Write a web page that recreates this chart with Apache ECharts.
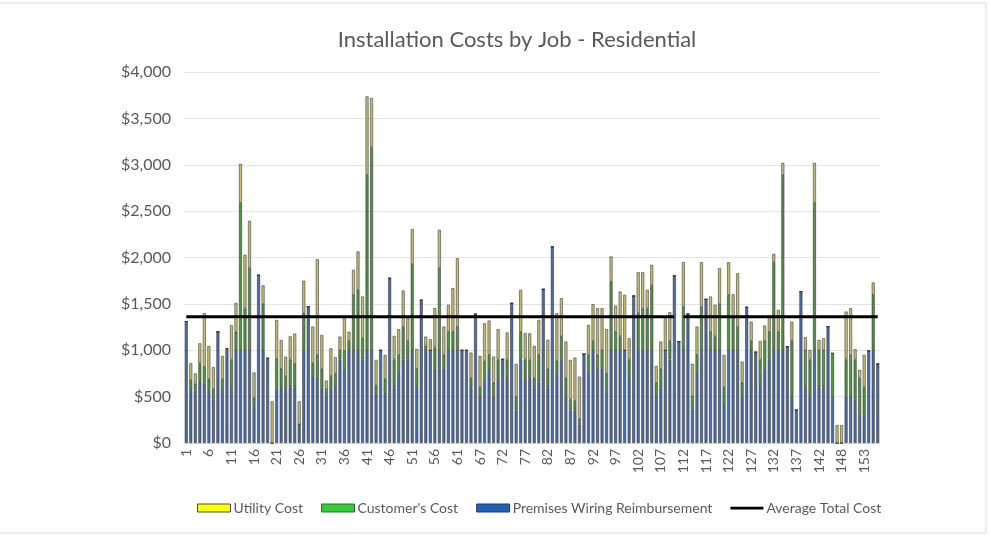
<!DOCTYPE html>
<html>
<head>
<meta charset="utf-8">
<title>Installation Costs by Job - Residential</title>
<script src="https://cdn.jsdelivr.net/npm/echarts@6/dist/echarts.min.js"></script>
<style>
  html, body { margin: 0; padding: 0; background: #ffffff; }
  #chart { width: 990px; height: 540px; }
</style>
</head>
<body>
<div id="chart"></div>
<script>
// Job numbers shown on the category axis (jobs 64 and 145 are absent)
const jobs = [
  1,2,3,4,5,6,7,8,9,10,11,12,13,14,15,16,17,18,19,20,
  21,22,23,24,25,26,27,28,29,30,31,32,33,34,35,36,37,38,39,40,
  41,42,43,44,45,46,47,48,49,50,51,52,53,54,55,56,57,58,59,60,
  61,62,63,65,66,67,68,69,70,71,72,73,74,75,76,77,78,79,80,81,
  82,83,84,85,86,87,88,89,90,91,92,93,94,95,96,97,98,99,100,101,
  102,103,104,105,106,107,108,109,110,111,112,113,114,115,116,117,118,119,120,121,
  122,123,124,125,126,127,128,129,130,131,132,133,134,135,136,137,138,139,140,141,
  142,143,144,146,147,148,149,150,151,152,153,154,155,156
];

// Premises wiring reimbursement per job ($)
const premisesWiring = [
  1310,570,560,660,640,570,470,1200,570,1000,600,1000,1000,1000,1000,390,1810,1000,914,0,
  570,600,570,600,600,200,1000,1470,720,700,600,500,570,600,900,790,1000,1000,1000,900,
  1000,1000,520,1000,540,1777,600,750,900,900,1000,600,1540,1000,1000,800,1000,800,1000,1000,
  1000,1000,1000,600,1390,500,680,800,500,700,903,700,1507,350,900,700,700,600,650,1658,
  600,2115,735,900,500,350,350,200,960,750,1000,800,800,550,1000,1000,1000,1000,700,1586,
  1000,1000,1000,1000,500,600,1000,900,1802,1094,1000,1392,360,750,1000,1550,1000,1000,1000,400,
  1000,1000,1000,500,1464,1000,980,600,800,900,1000,1000,1000,1040,500,356,1633,600,500,1000,
  600,600,1255,500,0,0,500,500,450,300,300,993,1000,853
];

// Customer's cost per job ($)
const customerCost = [
  0,110,80,200,180,120,110,0,120,20,300,200,1590,450,885,100,0,500,0,0,
  340,200,150,300,250,0,400,0,140,250,200,80,150,150,100,200,100,600,650,230,
  1890,2190,100,0,150,0,300,200,350,200,930,200,0,50,0,230,885,150,200,200,
  250,0,0,100,0,100,200,150,150,200,0,200,0,150,300,200,200,100,300,0,
  200,0,150,250,200,120,100,60,0,200,100,150,200,200,740,200,150,0,200,0,
  400,450,450,700,150,200,0,200,0,0,470,0,150,200,470,0,200,150,500,200,
  600,350,250,150,0,100,0,300,300,300,950,200,1890,0,600,0,0,400,400,1590,
  400,400,0,468,0,0,400,450,450,400,300,0,600,0
];

// Utility cost per job ($)
const utilityCost = [
  0,180,110,215,580,357,237,0,250,0,370,310,420,580,510,270,0,200,0,450,
  417,310,210,250,330,250,350,0,395,1030,365,93,300,175,147,355,100,267,415,450,
  847,530,276,0,260,0,255,277,394,245,376,214,0,97,119,423,414,305,290,469,
  743,0,0,275,0,339,411,370,282,327,0,291,0,353,451,283,283,347,377,0,
  312,0,515,411,394,426,471,456,0,323,396,503,453,477,271,282,483,597,229,0,
  442,392,201,221,181,294,345,310,0,0,480,0,343,305,480,0,379,340,385,350,
  350,254,581,228,0,209,0,200,166,156,90,235,130,0,209,0,0,140,104,430,
  112,129,0,0,194,194,517,503,111,88,350,0,130,0
];

// Average total cost across all jobs ($); the line is not drawn at job 111
const averageTotalCost = 1360;
const averageBreakJobs = [111];

// Y-axis tick labels
const yTicks = ['$0','$500','$1,000','$1,500','$2,000','$2,500','$3,000','$3,500','$4,000'];

const averageLine = jobs.map(j => (averageBreakJobs.includes(j) ? null : averageTotalCost));

const FONT = 'Lato, "Open Sans", sans-serif';
const TEXT = '#595959';
const BAR_BORDER = 'rgba(48,48,48,0.9)';

const chart = echarts.init(document.getElementById('chart'), null, { renderer: 'canvas' });

chart.setOption({
  animation: false,
  backgroundColor: '#ffffff',
  textStyle: { fontFamily: FONT },
  // light chart-area frame
  graphic: [
    {
      type: 'rect',
      shape: { x: -4, y: 3, width: 990, height: 530 },
      style: { fill: 'none', stroke: '#dedede', lineWidth: 1 },
      silent: true,
      z: -1
    }
  ],
  title: {
    text: 'Installation Costs by Job - Residential',
    left: 512,
    textAlign: 'center',
    top: 24,
    textStyle: { fontFamily: FONT, fontSize: 22, fontWeight: 'normal', color: TEXT }
  },
  legend: {
    bottom: 20,
    left: 192,
    itemWidth: 33,
    itemHeight: 8,
    itemGap: 18,
    textStyle: { fontFamily: FONT, fontSize: 14, color: TEXT, padding: [0, 0, 0, -2] },
    data: [
      { name: 'Utility Cost', icon: 'rect', itemStyle: { color: '#ffff00', borderColor: '#4a4a3a', borderWidth: 1 } },
      { name: "Customer's Cost", icon: 'rect', itemStyle: { color: '#33cc33', borderColor: '#2f6f2f', borderWidth: 1 } },
      { name: 'Premises Wiring Reimbursement', icon: 'rect', itemStyle: { color: '#1f64b4', borderColor: '#1b3f6e', borderWidth: 1 } },
      {
        name: 'Average Total Cost',
        icon: 'path://M0,0 M0,2.5 L36,2.5 L36,5.5 L0,5.5 Z M36,8',
        itemStyle: { color: '#000000', borderWidth: 0 }
      }
    ]
  },
  grid: { left: 184, right: 110, top: 72, bottom: 97, containLabel: false },
  xAxis: {
    type: 'category',
    data: jobs,
    boundaryGap: true,
    axisLine: { show: true, lineStyle: { color: '#d9d9d9', width: 1 } },
    axisTick: { show: false },
    axisLabel: {
      interval: 4,
      rotate: 90,
      margin: 6,
      fontFamily: FONT,
      fontSize: 14,
      color: TEXT
    }
  },
  yAxis: {
    type: 'value',
    min: 0,
    max: 4000,
    interval: 500,
    axisLine: { show: false },
    axisTick: { show: false },
    splitLine: { lineStyle: { color: '#e4e4e4', width: 1 } },
    axisLabel: {
      margin: 13,
      fontFamily: FONT,
      fontSize: 16,
      color: TEXT,
      formatter: v => yTicks[Math.round(v / 500)]
    }
  },
  series: [
    {
      name: 'Premises Wiring Reimbursement',
      type: 'bar',
      stack: 'cost',
      barWidth: 3,
      data: premisesWiring,
      itemStyle: { color: '#4a6ca6', borderColor: BAR_BORDER, borderWidth: 0.6 }
    },
    {
      name: "Customer's Cost",
      type: 'bar',
      stack: 'cost',
      barWidth: 3,
      data: customerCost,
      itemStyle: { color: '#4f9440', borderColor: BAR_BORDER, borderWidth: 0.6 }
    },
    {
      name: 'Utility Cost',
      type: 'bar',
      stack: 'cost',
      barWidth: 3,
      data: utilityCost,
      itemStyle: { color: '#c4bd70', borderColor: BAR_BORDER, borderWidth: 0.6 }
    },
    {
      name: 'Average Total Cost',
      type: 'line',
      data: averageLine,
      connectNulls: false,
      symbol: 'none',
      z: 5,
      lineStyle: { color: '#000000', width: 3 },
      itemStyle: { color: '#000000' }
    }
  ]
});
</script>
</body>
</html>
